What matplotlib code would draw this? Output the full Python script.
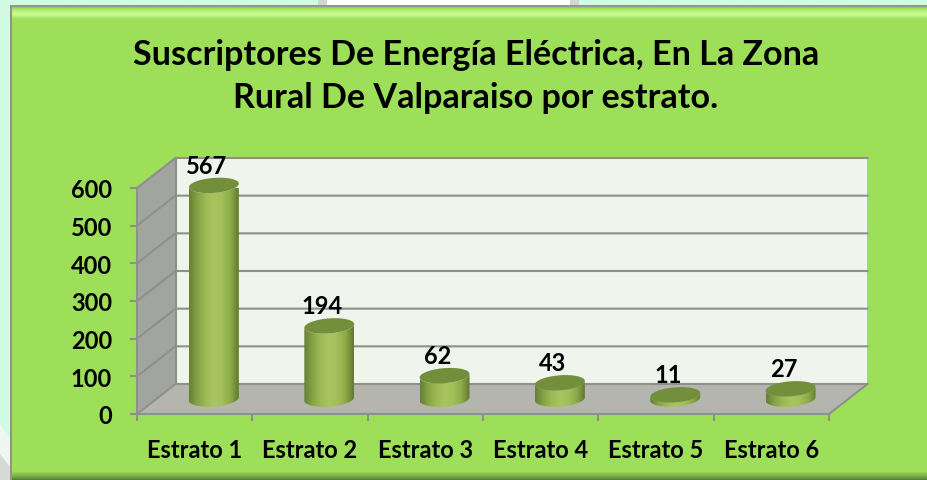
#!/usr/bin/env python3
"""Pseudo-3D cylinder column chart, subscribers per stratum. Output: out.png"""
import numpy as np
import matplotlib
matplotlib.use("Agg")
import matplotlib.pyplot as plt
from matplotlib.colors import LinearSegmentedColormap
from matplotlib.patches import PathPatch, Polygon, Rectangle
from matplotlib.path import Path

plt.rcParams["font.family"] = ["Lato", "DejaVu Sans"]

TITLE = "Suscriptores De Energía Eléctrica, En La Zona\nRural De Valparaiso por estrato."
categorias = ["Estrato 1", "Estrato 2", "Estrato 3", "Estrato 4", "Estrato 5", "Estrato 6"]
suscriptores = [567, 194, 62, 43, 11, 27]
y_ticks = [0, 100, 200, 300, 400, 500, 600]

W, H = 928, 481
# front plane of the box, pixels
X0, X1, Y0, Y1 = 137, 829, 415, 189
DEPTH_X, DEPTH_Y = 38.5, 30

GRID = "#8e908c"
fig = plt.figure(figsize=(W / 100, H / 100), dpi=100, facecolor="#d2fbe4")

# page behind the panel and the bevelled panel itself, in pixels
bg = fig.add_axes([0, 0, 1, 1])
bg.set_xlim(0, W)
bg.set_ylim(H, 0)
bg.axis("off")
bg.add_patch(Rectangle((327, 0), 243, 7, color="white", lw=0))
bg.add_patch(Rectangle((318, 0), 9, 7, color="#cfd8d2", lw=0))
bg.add_patch(Rectangle((570, 0), 9, 7, color="#cfd8d2", lw=0))
bg.add_patch(Polygon([(0, 425), (10, 440), (10, 481), (0, 481)], color="#eef6f0", lw=0))
bg.add_patch(Polygon([(0, 455), (10, 468), (10, 481), (0, 481)], color="#d6d9d6", lw=0))
bg.add_patch(Rectangle((10, 7), W - 10, H - 7, color="#9edf5a", lw=0))

band = np.array(["#8f9490", "#8f9490", "#9bdc58", "#a9e868", "#b4ef74", "#c0f584",
                 "#c8f98e", "#c8f98e", "#c0f584", "#b0ec70", "#a4e462", "#9edf5a"])
band_cm = LinearSegmentedColormap.from_list("band", list(band))
bg.imshow(np.linspace(0, 1, 64)[:, None], cmap=band_cm, extent=(10, W, 21, 6),
          aspect="auto", zorder=2)
bg.add_patch(Rectangle((10, 7), 2.5, H - 7, color="#8f9490", lw=0, zorder=3))
bottom_cm = LinearSegmentedColormap.from_list("bot", ["#9edf5a", "#7fb548", "#55803a"])
bg.imshow(np.linspace(0, 1, 16)[:, None], cmap=bottom_cm, extent=(12, W, 481, 472),
          aspect="auto", zorder=2)
bg.set_xlim(0, W)
bg.set_ylim(H, 0)

# main axes sits on the front plane, so ticks and values use its own scales
ax = fig.add_axes([X0 / W, 1 - Y0 / H, (X1 - X0) / W, (Y0 - Y1) / H])
ax.patch.set_alpha(0)
ax.set_xlim(0, len(categorias))
ax.set_ylim(0, 600)
sx = (X1 - X0) / len(categorias)     # px per category
sy = (Y0 - Y1) / 600.0               # px per unit
dx, dy = DEPTH_X / sx, DEPTH_Y / sy
n = len(categorias)

# walls and floor
ax.add_patch(Polygon([(dx, dy), (n + dx, dy), (n + dx, 600 + dy), (dx, 600 + dy)],
                     fc="#eff4ec", ec="none", clip_on=False, zorder=1))
ax.add_patch(Polygon([(0, 0), (dx, dy), (dx, 600 + dy), (0, 600)],
                     fc="#a2a4a0", ec="none", clip_on=False, zorder=1))
ax.add_patch(Polygon([(0, 0), (n, 0), (n + dx, dy), (dx, dy)],
                     fc="#b3b5ae", ec="none", clip_on=False, zorder=1))
for v in y_ticks:
    ax.plot([0, dx, n + dx], [v, v + dy, v + dy], color=GRID, lw=1.5, clip_on=False,
            zorder=2, solid_joinstyle="miter")
ax.plot([dx, dx], [dy, 600 + dy], color=GRID, lw=1.5, clip_on=False, zorder=2)
ax.plot([n, n + dx], [0, dy], color=GRID, lw=1.5, clip_on=False, zorder=2)

# cylinders
A, B, TILT = 25.0, 7.5, np.radians(4.5)
cyl_cm = LinearSegmentedColormap.from_list(
    "cyl", ["#667f35", "#86a346", "#9dba54", "#a8c55e", "#a2bf59", "#8dab49", "#62792f"])
t = np.linspace(0, 2 * np.pi, 121)


def rim(cx, cy, tt):
    """Tilted ellipse around a value point, returned in data coordinates."""
    ex = A * np.cos(tt)
    ey = B * np.sin(tt)
    px = ex * np.cos(TILT) - ey * np.sin(TILT)
    py = ex * np.sin(TILT) + ey * np.cos(TILT)
    return cx + px / sx, cy + py / sy


for i, v in enumerate(suscriptores):
    cx = i + 0.5 + dx / 2
    base = dy / 2
    top = base + v
    lower = np.linspace(np.pi, 2 * np.pi, 61)
    bx, by = rim(cx, base, lower)
    ux, uy = rim(cx, top, lower[::-1])
    body = Path(np.column_stack([np.r_[bx, ux], np.r_[by, uy]]))
    im = ax.imshow(np.linspace(0, 1, 128)[None, :], cmap=cyl_cm, aspect="auto", zorder=4,
                   extent=(cx - A / sx, cx + A / sx, base - 12 / sy, top + 12 / sy))
    im.set_clip_path(PathPatch(body, transform=ax.transData))
    tx, ty = rim(cx, top, t)
    ax.fill(tx, ty, color="#748f3c", lw=0, clip_on=False, zorder=5)
    ax.annotate(str(v), (cx, top), xytext=(-7, 20), textcoords="offset pixels",
                ha="center", va="center", fontsize=17, fontweight="bold", color="black",
                annotation_clip=False, zorder=6)
ax.set_xlim(0, n)
ax.set_ylim(0, 600)

for s in ax.spines.values():
    s.set_visible(False)
for s in ("left", "bottom"):
    ax.spines[s].set_visible(True)
    ax.spines[s].set_color(GRID)
    ax.spines[s].set_linewidth(1.5)
    ax.spines[s].set_zorder(3)
ax.set_yticks(y_ticks)
ax.set_xticks(np.arange(n + 1))
ax.set_xticklabels([])
ax.set_xticks(np.arange(n) + 0.5, categorias, minor=True)
ax.tick_params(axis="both", which="major", length=5, width=1.5, color=GRID)
ax.tick_params(axis="y", labelsize=17, pad=13, labelcolor="black")
ax.tick_params(axis="x", which="minor", length=0, labelsize=17, pad=17, labelcolor="black")
for lab in ax.get_yticklabels() + ax.get_xticklabels(minor=True):
    lab.set_fontweight("bold")

fig.text(476 / W, 1 - 76.5 / H, TITLE, ha="center", va="center", fontsize=24.6,
         fontweight="bold", color="black", linespacing=1.45)

fig.savefig("out.png", dpi=100, facecolor=fig.get_facecolor())
plt.close(fig)
